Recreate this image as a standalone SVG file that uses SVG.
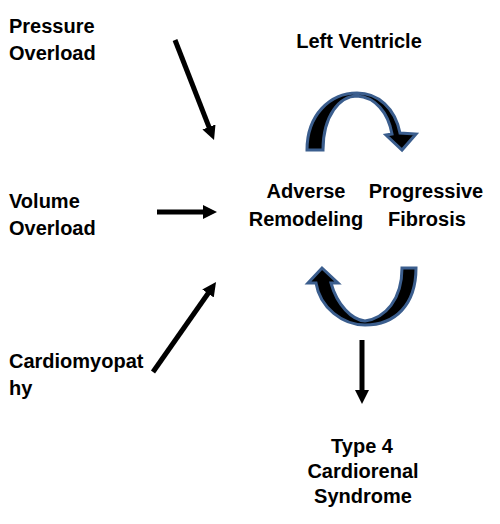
<svg xmlns="http://www.w3.org/2000/svg" width="500" height="524" viewBox="0 0 500 524">
<style>
text { font-family: "Liberation Sans", Arial, sans-serif; font-weight: bold; font-size: 20px; fill: #000; }
.mid { text-anchor: middle; }
.conn { stroke: #000; stroke-width: 5; fill: none; marker-end: url(#ah); }
.curve { fill: #000; stroke: #3B5E8E; stroke-width: 3; stroke-linejoin: miter; }
</style>
<defs>
<marker id="ah" viewBox="0 0 14 14" markerUnits="userSpaceOnUse" markerWidth="14" markerHeight="14" refX="4" refY="7" orient="auto">
<path d="M0,0 L14,7 L0,14 Z" fill="#000"/>
</marker>
</defs>
<rect width="500" height="524" fill="#fff"/>
<g id="connectors">
<line class="conn" x1="175" y1="40" x2="210.4" y2="130.7"/>
<line class="conn" x1="157" y1="212" x2="207" y2="212"/>
<line class="conn" x1="153" y1="372" x2="210.3" y2="290.2"/>
<line class="conn" x1="362" y1="340" x2="362" y2="394"/>
<path id="curve-top" class="curve" d="M307,150 C307,115 330,93 357,93 C378,93 395,108 400,133 L416,134 L402,150 L386,135 L392,134 C388,112 375,97 357,96 C340,96 323,115 323,150 Z"/>
<path id="curve-bottom" class="curve" d="M402,268 L416,268 C416,305 395,325 365,325 C343,325 320,308 316,283 L308,283 L322,268 L338,283 L331,283 C337,305 352,320 365,321 C385,318 402,300 402,268 Z"/>
</g>
<g id="pressure-overload">
<text x="9" y="33">Pressure</text>
<text x="9" y="60">Overload</text>
</g>
<g id="volume-overload">
<text x="9" y="208">Volume</text>
<text x="9" y="235">Overload</text>
</g>
<g id="cardiomyopathy">
<text x="9" y="368">Cardiomyopat</text>
<text x="9" y="395">hy</text>
</g>
<g id="left-ventricle">
<text class="mid" x="359" y="48">Left Ventricle</text>
</g>
<g id="adverse-remodeling">
<text class="mid" x="306" y="198">Adverse</text>
<text class="mid" x="306" y="226">Remodeling</text>
</g>
<g id="progressive-fibrosis">
<text class="mid" x="426" y="198">Progressive</text>
<text class="mid" x="427" y="226">Fibrosis</text>
</g>
<g id="cardiorenal-syndrome">
<text class="mid" x="362" y="453">Type 4</text>
<text class="mid" x="363" y="478">Cardiorenal</text>
<text class="mid" x="363" y="503">Syndrome</text>
</g>
</svg>
